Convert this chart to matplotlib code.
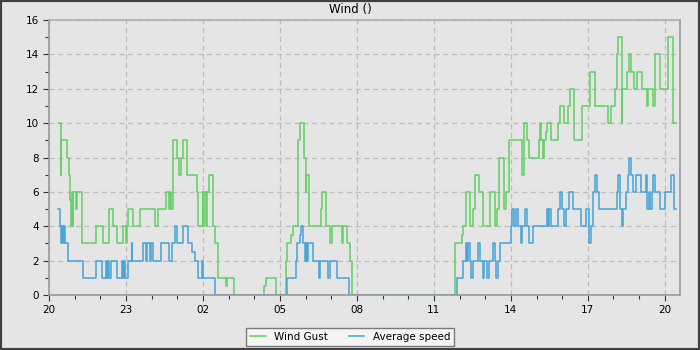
import matplotlib
matplotlib.use("Agg")
import matplotlib.pyplot as plt
import matplotlib.dates as mdates
import numpy as np
import pandas as pd

# hours since 20:00 on day one, and the reading from that time on
gust_hours = [0.0, 0.39, 0.46, 0.48, 0.69, 0.78, 0.82, 0.85, 0.88, 0.92, 0.95, 1.05, 1.10, 1.27,
              1.82, 2.12, 2.34, 2.48, 2.66, 2.87, 3.00, 3.05, 3.09, 3.28, 3.55, 4.13, 4.26,
              4.56, 4.66, 4.71, 4.75, 4.82, 4.97, 5.06, 5.14, 5.23, 5.39, 5.75, 5.82, 5.99,
              6.02, 6.06, 6.10, 6.14, 6.22, 6.40, 6.47, 6.60, 6.90, 6.95, 7.21, 8.39, 8.44,
              8.84, 9.23, 9.26, 9.43, 9.52, 9.71, 9.78, 9.95, 10.00, 10.02, 10.14, 10.60,
              10.65, 10.79, 10.95, 11.01, 11.40, 11.47, 11.62, 11.73, 11.82, 15.84, 16.08,
              16.14, 16.24, 16.40, 16.53, 16.60, 16.75, 16.90, 17.18, 17.40, 17.45, 17.54,
              17.74, 17.80, 17.93, 18.45, 18.50, 18.63, 18.71, 19.09, 19.13, 19.19, 19.24,
              19.28, 19.36, 19.41, 19.58, 19.84, 19.91, 20.06, 20.23, 20.30, 20.46, 20.79,
              21.10, 21.27, 21.77, 21.89, 22.05, 22.12, 22.18, 22.32, 22.35, 22.53, 22.59,
              22.70, 22.80, 22.93, 23.11, 23.31, 23.36, 23.54, 23.63, 23.80, 24.13, 24.30,
              24.32, 24.45]
gust_values = [np.nan, 10, 7, 9, 8, 7, 5.5, 4, 6, 4, 6, 5, 6, 3,
               4, 3, 5, 4, 3, 4, 3, 4, 5, 4, 5, 4, 5,
               6, 5, 6, 5, 9, 8, 7, 8, 9, 7, 6, 4, 6,
               4, 6, 4, 6, 7, 4, 3, 1, 0.5, 1, 0, 0.5, 1,
               0, 2, 3, 3.5, 4, 9, 10, 8, 6, 7, 4, 5,
               6, 4, 3, 4, 3, 4, 3, 2, 0, 3, 3.5,
               4, 6, 4, 5, 7, 6, 4, 6, 4, 5, 8,
               5, 6, 9, 7, 10, 9, 8, 9, 10, 9, 8,
               9, 9.5, 10, 9, 10, 11, 10, 11, 12, 9, 11,
               13, 11, 10, 11, 12, 14, 15, 10, 12, 13, 14,
               13, 12, 13, 12, 11, 12, 11, 14, 12, 15, 13,
               10, 10]

avg_hours = [0.0, 0.36, 0.43, 0.47, 0.51, 0.55, 0.58, 0.62, 0.75, 1.31, 1.83, 2.05, 2.22, 2.26,
             2.30, 2.34, 2.40, 2.66, 2.83, 2.87, 2.92, 2.96, 3.09, 3.22, 3.25, 3.67, 3.78,
             3.82, 3.93, 3.97, 4.06, 4.35, 4.69, 4.78, 4.91, 4.97, 5.23, 5.43, 5.58, 5.69,
             5.82, 5.95, 6.02, 6.47, 9.26, 9.62, 9.68, 9.78, 9.84, 9.90, 9.97, 10.01, 10.05,
             10.09, 10.30, 10.53, 10.58, 10.87, 10.97, 11.23, 11.70, 15.91, 16.14, 16.24,
             16.28, 16.32, 16.40, 16.44, 16.52, 16.71, 16.79, 16.91, 16.97, 17.06, 17.14,
             17.31, 17.38, 17.44, 17.51, 17.57, 18.00, 18.06, 18.11, 18.19, 18.27, 18.41,
             18.44, 18.54, 18.62, 18.70, 18.87, 19.41, 19.46, 19.50, 19.55, 19.84, 19.93,
             20.01, 20.06, 20.13, 20.27, 20.43, 20.75, 20.94, 21.04, 21.14, 21.20, 21.27,
             21.34, 21.44, 22.14, 22.18, 22.27, 22.32, 22.36, 22.48, 22.57, 22.61, 22.70,
             22.76, 22.89, 23.09, 23.28, 23.31, 23.37, 23.41, 23.49, 23.54, 23.60, 23.83,
             24.00, 24.26, 24.35, 24.45]
avg_values = [np.nan, 5, 4, 3, 4, 3, 4, 3, 2, 1, 2, 1, 2, 1,
              2, 1, 2, 1, 2, 1, 2, 1, 2, 3, 2, 3, 2,
              3, 2, 3, 2, 3, 2, 3, 4, 3, 4, 3, 2.5, 2,
              1, 2, 1, 0, 1, 2, 3, 3.5, 4, 3, 2, 3, 2,
              3, 2, 1, 2, 1, 2, 1, 0, 1, 2, 3,
              2, 3, 2, 1, 2, 3, 2, 1, 2, 1, 2,
              3, 2, 1, 2, 3, 4, 5, 4, 5, 4, 3,
              4, 5, 4, 3, 4, 5, 4, 5, 4, 5, 6,
              5, 4, 5, 6, 5, 4, 5, 3, 4, 6, 7,
              6, 5, 6, 7, 5, 4, 5, 6, 7, 8, 7,
              6, 7, 6, 7, 5, 6, 5, 6, 7, 6, 5,
              6, 7, 5, 5]

start = pd.Timestamp("2024-01-01 20:00")
gust_t = start + pd.to_timedelta(gust_hours, unit="h")
avg_t = start + pd.to_timedelta(avg_hours, unit="h")

bg = "#e5e5e5"
fig = plt.figure(figsize=(7, 3.5), dpi=100, facecolor=bg)
ax = fig.add_axes([0.07, 0.157, 0.901, 0.786], facecolor=bg)

ax.step(gust_t, gust_values, where="post", color="#66d166", lw=1.15, label="Wind Gust")
ax.step(avg_t, avg_values, where="post", color="#4aa6d8", lw=1.15, label="Average speed")

ax.set_ylim(0, 16)
ax.set_yticks(range(0, 17, 2))
ax.set_yticks(range(1, 16, 2), minor=True)
ax.set_xlim(start, start + pd.Timedelta(hours=24.58))
ax.xaxis.set_major_locator(mdates.HourLocator(byhour=range(2, 24, 3)))
ax.xaxis.set_minor_locator(mdates.HourLocator())
ax.xaxis.set_major_formatter(mdates.DateFormatter("%H"))

ax.grid(True, which="major", color="#bdbdbd", linestyle=(0, (4, 3)), lw=0.9)
ax.tick_params(which="both", labelsize=7.5, color="#333333", length=4, width=0.8)
ax.tick_params(which="minor", length=3)
for s in ax.spines.values():
    s.set_color("#9a9a9a")
    s.set_linewidth(1.2)
ax.spines["top"].set_color("#b0b0b0")

fig.text(0.5, 1 - 10 / 350, "Wind ()", ha="center", va="center", fontsize=8.5)

leg = fig.legend(loc="center", bbox_to_anchor=(0.5, 1 - 337 / 350), ncol=2, fontsize=7.5,
                 frameon=True, fancybox=False, handlelength=1.5, columnspacing=2.0,
                 borderpad=0.4)
leg.get_frame().set_facecolor("#f4f4f4")
leg.get_frame().set_edgecolor("#7a7a7a")
leg.get_frame().set_alpha(1)

# dark outer frame
fig.patches.append(plt.Rectangle((0, 0), 1, 1, transform=fig.transFigure, fill=False,
                                 edgecolor="#404040", lw=3))

fig.savefig("out.png", dpi=100, facecolor=bg)
